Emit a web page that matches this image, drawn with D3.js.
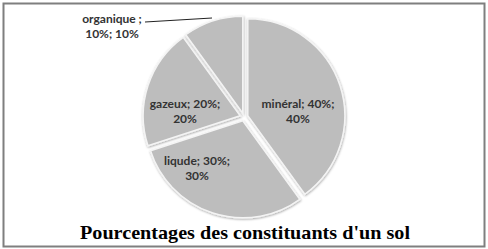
<!DOCTYPE html>
<html>
<head>
<meta charset="utf-8">
<script src="https://cdn.jsdelivr.net/npm/d3@7"></script>
<style>
  body { margin: 0; background: #fff; }
  svg { display: block; }
</style>
</head>
<body>
<svg id="chart" width="488" height="249"></svg>
<script>
// données
const categories = ['minéral', 'liqude', 'gazeux', 'organique']
const values = [40, 30, 20, 10]
const title = "Pourcentages des constituants d'un sol"

const width = 488
const height = 249
const cx = 244
const cy = 117
const radius = 97
const explode = 4

const svg = d3.select('#chart')

// cadre
svg.append('rect')
  .attr('x', 3.5).attr('y', 3.5)
  .attr('width', width - 7).attr('height', height - 6)
  .attr('fill', '#fff')
  .attr('stroke', '#7f7f7f')
  .attr('stroke-width', 2)

const defs = svg.append('defs')
const f = defs.append('filter').attr('id', 'shadow')
  .attr('x', '-20%').attr('y', '-20%').attr('width', '140%').attr('height', '140%')
f.append('feDropShadow')
  .attr('dx', 0.5).attr('dy', 1)
  .attr('stdDeviation', 1.2)
  .attr('flood-color', '#000')
  .attr('flood-opacity', 0.35)

const pie = d3.pie().sort(null).value(d => d.value)
const arc = d3.arc().innerRadius(0).outerRadius(radius)

const data = categories.map((c, i) => ({ name: c, value: values[i] }))
const arcs = pie(data)

const g = svg.append('g').attr('transform', `translate(${cx},${cy})`)

g.selectAll('path.slice')
  .data(arcs)
  .join('path')
  .attr('class', 'slice')
  .attr('transform', d => {
    const a = (d.startAngle + d.endAngle) / 2
    return `translate(${Math.sin(a) * explode},${-Math.cos(a) * explode})`
  })
  .attr('d', arc)
  .attr('fill', '#bdbdbd')
  .attr('stroke', '#f4f4f4')
  .attr('stroke-width', 1.5)
  .attr('filter', 'url(#shadow)')

// position des étiquettes (décalage depuis le centre)
const labelPos = {
  'minéral': [54, -7],
  'liqude': [-47, 50],
  'gazeux': [-59, -7],
  'organique': [-132, -92]
}

const labels = g.selectAll('text.lbl')
  .data(arcs)
  .join('text')
  .attr('class', 'lbl')
  .attr('x', d => labelPos[d.data.name][0])
  .attr('y', d => labelPos[d.data.name][1])
  .attr('text-anchor', 'middle')
  .attr('font-family', 'Lato, "Open Sans", sans-serif')
  .attr('font-weight', 'bold')
  .attr('font-size', 12)
  .attr('fill', '#333')

labels.each(function (d) {
  const t = d3.select(this)
  const first = d.data.name === 'organique' ? d.data.name + ' ;' : d.data.name + '; ' + d.data.value + '%;'
  const second = d.data.name === 'organique' ? d.data.value + '%; ' + d.data.value + '%' : d.data.value + '%'
  t.append('tspan').attr('x', labelPos[d.data.name][0]).attr('dy', '-0.15em').text(first)
  t.append('tspan').attr('x', labelPos[d.data.name][0]).attr('dy', '1.25em').text(second)
})

// ligne de rappel pour organique
g.append('path')
  .attr('d', d3.line()([[-99, -95], [-32, -99]]))
  .attr('fill', 'none')
  .attr('stroke', '#222')
  .attr('stroke-width', 1)

svg.append('text')
  .attr('x', 245)
  .attr('y', 239)
  .attr('text-anchor', 'middle')
  .attr('font-family', '"Liberation Serif", "DejaVu Serif", serif')
  .attr('font-weight', 'bold')
  .attr('font-size', 19.5)
  .attr('textLength', 330)
  .attr('lengthAdjust', 'spacingAndGlyphs')
  .attr('fill', '#000')
  .text(title)
</script>
</body>
</html>
